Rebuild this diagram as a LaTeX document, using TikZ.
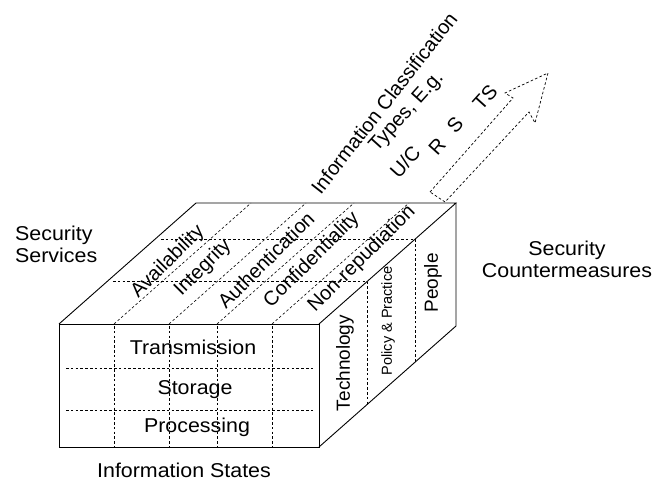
\documentclass[tikz,border=0pt]{standalone}
\usepackage{fontspec}
\setmainfont{Liberation Sans}
\newfontfamily\widesans{Liberation Sans}[FakeStretch=1.07]
\usetikzlibrary{calc}
\begin{document}
\begin{tikzpicture}[x=1pt,y=1pt,
  edge/.style={line width=0.9pt, line join=miter},
  grid/.style={line width=0.6pt, dash pattern=on 2.6pt off 2.2pt},
  lbl/.style={font=\fontsize{20}{22}\selectfont, inner sep=0pt},
  hlbl/.style={font=\widesans\fontsize{20}{22}\selectfont, inner sep=0pt},
  vlbl/.style={font=\fontsize{19}{22}\selectfont, inner sep=0pt, rotate=90},
  toplbl/.style={lbl, rotate=45},
  cls/.style={lbl, rotate=48}]
\useasboundingbox (0,0) rectangle (666,481);

% corners of the cube
\coordinate (A) at (59,157);
\coordinate (B) at (319,157);
\coordinate (C) at (319,34);
\coordinate (D) at (59,34);
\coordinate (E) at (196,278);
\coordinate (F) at (456,278);
\coordinate (G) at (456,155);

% dashed grid: columns of the front and top faces
\foreach \x in {114,169,217,272} {
  \draw[grid] (\x,155) -- (\x,34);
  \draw[grid] (\x,157) -- ++(137,121);
}
% rows of the front face
\foreach \y in {113,71} \draw[grid] (66,\y) -- (313,\y);
% rows of the top face and columns of the right face
\foreach \t in {0.35,0.70} {
  \draw[grid] ($(A)!\t!(E)+(6,0)$) -- ($(B)!\t!(F)$);
  \draw[grid] ($(B)!\t!(F)$) -- ($(C)!\t!(G)$);
}

% cube outline
\draw[edge] (A) -- (B) -- (C) -- (D) -- cycle;
\draw[edge] (A) -- (E) -- (F) -- (B);
\draw[edge] (F) -- (G) -- (C);

% classification arrow
\coordinate (a0) at (430,289);
\coordinate (a1) at (513,383);
\coordinate (a2) at (505,388);
\coordinate (tip) at (548,408);
\coordinate (a4) at (535,358);
\coordinate (a5) at (529,369);
\coordinate (a6) at (445,279);
\draw[grid, line width=0.7pt] (a0) -- (a1) -- (a2) -- (tip) -- (a4) -- (a5) -- (a6) -- cycle;

% front face labels
\node[hlbl] (trans) at (193,134) {Transmission};
\node[hlbl] (stor) at (195,91) {Storage};
\node[hlbl] (proc) at (197,54) {Processing};

% top face labels
\node[toplbl] (avail) at (168,219) {Availability};
\node[toplbl] (integ) at (203,213) {Integrity};
\node[toplbl] (auth) at (266,221) {Authentication};
\node[toplbl] (conf) at (312,221) {Confidentiality};
\node[toplbl] (nonrep) at (362,222) {Non-repudiation};

% right face labels
\node[vlbl] (tech) at (345,118) {Technology};
\node[vlbl, font=\fontsize{14.5}{16}\selectfont] (policy) at (388,160) {Policy \& Practice};
\node[vlbl] (people) at (433,198) {People};

% classification labels
\node[lbl, rotate=52] (infocls) at (384,378) {Information Classification};
\node[cls] (types) at (407,369) {Types, E.g.};
\node[cls] (uc) at (405,319) {U/C};
\node[cls] (r) at (437,334) {R};
\node[cls] (s) at (455,356) {S};
\node[cls] (ts) at (485,384) {TS};

% axis captions
\node[hlbl, align=left, anchor=west] (services) at (15,237) {Security\\Services};
\node[hlbl, align=center] (counter) at (567,222) {Security\\Countermeasures};
\node[hlbl] (states) at (184,11) {Information States};
\end{tikzpicture}
\end{document}
